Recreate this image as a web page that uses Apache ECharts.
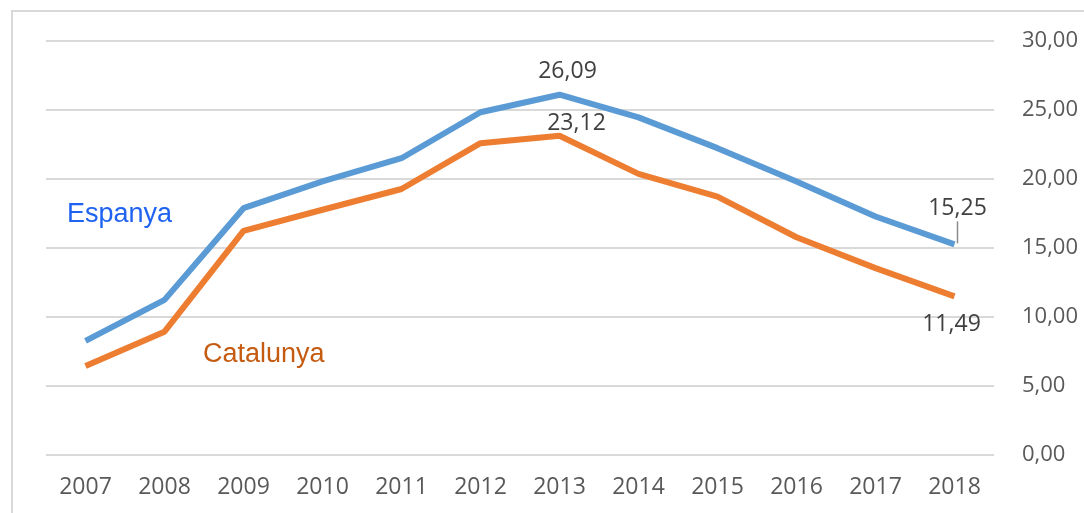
<!DOCTYPE html>
<html>
<head>
<meta charset="utf-8">
<script src="https://cdn.jsdelivr.net/npm/echarts@6/dist/echarts.min.js"></script>
<style>
  html, body { margin: 0; padding: 0; background: #fff; }
  #chart { width: 1084px; height: 513px; }
</style>
</head>
<body>
<div id="chart"></div>
<script>
const years = ["2007", "2008", "2009", "2010", "2011", "2012", "2013", "2014", "2015", "2016", "2017", "2018"];
const espanya = [8.27, 11.23, 17.87, 19.81, 21.49, 24.82, 26.09, 24.45, 22.22, 19.81, 17.27, 15.25];
const catalunya = [6.44, 8.93, 16.23, 17.76, 19.26, 22.58, 23.12, 20.36, 18.71, 15.77, 13.53, 11.49];
// points that carry a value label
const espanyaLabeled = [6, 11];
const catalunyaLabeled = [6, 11];

const fmt = (v) => v.toFixed(2).replace(".", ",");
const labelFont = { fontFamily: "Open Sans", fontSize: 23, color: "#404040" };

const myChart = echarts.init(document.getElementById("chart"));

const option = {
  backgroundColor: "#fff",
  animation: false,
  grid: { left: 46, right: 90, top: 40.7, bottom: 58 },
  xAxis: {
    type: "category",
    data: years,
    boundaryGap: true,
    axisLine: { show: false },
    axisTick: { show: false },
    axisLabel: { margin: 21, fontFamily: "Open Sans", fontSize: 23, color: "#595959" },
  },
  yAxis: {
    type: "value",
    position: "right",
    min: 0,
    max: 30,
    interval: 5,
    axisLine: { show: false },
    axisTick: { show: false },
    axisLabel: {
      margin: 28,
      fontFamily: "Open Sans",
      fontSize: 22,
      color: "#595959",
      formatter: fmt,
    },
    splitLine: { lineStyle: { color: "#d9d9d9", width: 2 } },
  },
  graphic: [
    {
      type: "rect",
      silent: true,
      shape: { x: 12, y: 11, width: 1200, height: 600 },
      style: { fill: "none", stroke: "#d9d9d9", lineWidth: 2 },
    },
    {
      type: "text",
      left: 67,
      top: 201,
      style: { text: "Espanya", font: '27px "Liberation Sans", Arial, sans-serif', fill: "#1f63f0" },
    },
    {
      type: "text",
      left: 203,
      top: 341,
      style: { text: "Catalunya", font: '27px "Liberation Sans", Arial, sans-serif', fill: "#c55a11" },
    },
  ],
  series: [
    {
      name: "Espanya",
      type: "line",
      data: espanya.map((v, i) => ({
        value: v,
        label: {
          show: espanyaLabeled.includes(i),
          position: "top",
          distance: i === 11 ? 1 : 12,
          // last point gets a small leader line under its value
          formatter: i === 11 ? (p) => "{v|" + fmt(p.value) + "}\n{l|}" : (p) => fmt(p.value),
        },
      })),
      symbol: "circle",
      symbolSize: 0,
      showSymbol: true,
      itemStyle: { color: "#5b9bd5" },
      lineStyle: { color: "#5b9bd5", width: 6 },
      label: {
        ...labelFont,
        rich: {
          v: { ...labelFont, lineHeight: 26 },
          l: { width: 1.5, height: 22, backgroundColor: "#8c8c8c" },
        },
      },
      labelLayout: (p) => (p.dataIndex === 6 ? { dx: 8 } : p.dataIndex === 11 ? { dx: 3 } : {}),
      z: 3,
    },
    {
      name: "Catalunya",
      type: "line",
      data: catalunya.map((v, i) => ({
        value: v,
        label: {
          show: catalunyaLabeled.includes(i),
          position: i === 11 ? "bottom" : "top",
          distance: i === 11 ? 17 : 1,
        },
      })),
      symbol: "circle",
      symbolSize: 0,
      showSymbol: true,
      itemStyle: { color: "#ed7d31" },
      lineStyle: { color: "#ed7d31", width: 6 },
      label: {
        ...labelFont,
        formatter: (p) => fmt(p.value),
      },
      labelLayout: (p) => (p.dataIndex === 6 ? { dx: 17 } : p.dataIndex === 11 ? { dx: -3 } : {}),
      z: 2,
    },
  ],
};

myChart.setOption(option);
</script>
</body>
</html>
